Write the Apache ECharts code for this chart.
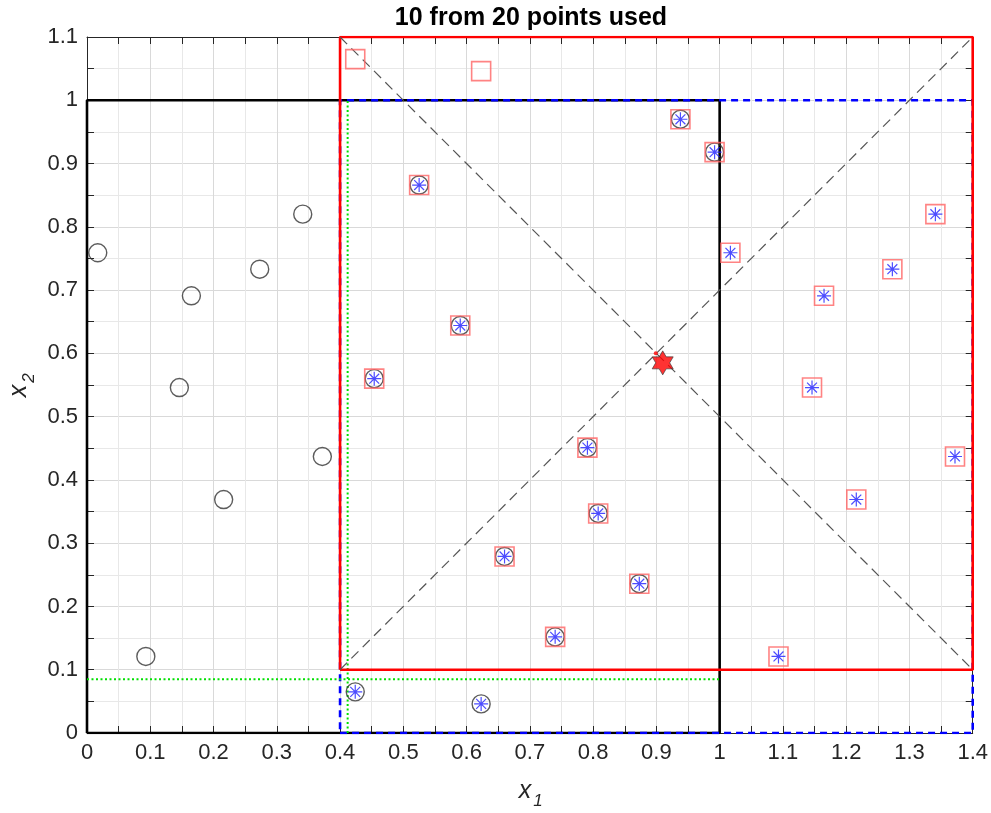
<!DOCTYPE html>
<html>
<head>
<meta charset="utf-8">
<script src="https://cdn.jsdelivr.net/npm/echarts@6/dist/echarts.min.js"></script>
<style>
html,body{margin:0;padding:0;background:#fff;}
#chart{width:991px;height:813px;}
</style>
</head>
<body>
<div id="chart"></div>
<script>
// ---- data ----
const circleX = [0.017, 0.093, 0.146, 0.165, 0.216, 0.273, 0.341, 0.372, 0.424, 0.454,
                 0.525, 0.590, 0.623, 0.660, 0.740, 0.791, 0.808, 0.873, 0.938, 0.992];
const circleY = [0.759, 0.121, 0.546, 0.691, 0.369, 0.733, 0.820, 0.437, 0.065, 0.560,
                 0.866, 0.644, 0.046, 0.279, 0.152, 0.451, 0.347, 0.236, 0.970, 0.918];

const squareX = [0.454, 0.525, 0.590, 0.660, 0.740, 0.791, 0.808, 0.873, 0.938, 0.992,
                 1.017, 1.093, 1.146, 1.165, 1.216, 1.273, 1.341, 1.372, 0.424, 0.623];
const squareY = [0.560, 0.866, 0.644, 0.279, 0.152, 0.451, 0.347, 0.236, 0.970, 0.918,
                 0.759, 0.121, 0.546, 0.691, 0.369, 0.733, 0.820, 0.437, 1.065, 1.046];

const starX = [0.424, 0.454, 0.525, 0.590, 0.623, 0.660, 0.740, 0.791, 0.808, 0.873,
               0.938, 0.992, 1.017, 1.093, 1.146, 1.165, 1.216, 1.273, 1.341, 1.372];
const starY = [0.065, 0.560, 0.866, 0.644, 0.046, 0.279, 0.152, 0.451, 0.347, 0.236,
               0.970, 0.918, 0.759, 0.121, 0.546, 0.691, 0.369, 0.733, 0.820, 0.437];

const centerPoint = [0.910, 0.585];
const crossPoint = [0.899, 0.600];

const blackBox = [[0, 0], [1, 0], [1, 1], [0, 1], [0, 0]];
const redBox = [[0.4, 0.1], [1.4, 0.1], [1.4, 1.1], [0.4, 1.1], [0.4, 0.1]];
const blueBox = [[0.4, 0], [1.4, 0], [1.4, 1], [0.4, 1], [0.4, 0]];
const greenV = [[0.412, 0], [0.412, 1]];
const greenH = [[0, 0.085], [1, 0.085]];
const diag1 = [[0.4, 0.1], [1.4, 1.1]];
const diag2 = [[0.4, 1.1], [1.4, 0.1]];

const xTicks = {min: 0, max: 1.4, step: 0.1};
const yTicks = {min: 0, max: 1.1, step: 0.1};
const titleText = '10 from 20 points used';

// ---- chart ----
const zip = (xs, ys) => xs.map((x, i) => [x, ys[i]]);
const FONT = '"Liberation Sans", Arial, Helvetica, sans-serif';
const AX = '#262626';

function axisBase(t, pos, showLabel) {
  return {
    type: 'value', position: pos, min: t.min, max: t.max, interval: t.step,
    axisLine: {show: true, onZero: false, lineStyle: {color: AX, width: 1}},
    axisTick: {show: true, inside: true, length: 7, lineStyle: {color: AX, width: 1}},
    minorTick: {show: true, splitNumber: 2, length: 7, lineStyle: {color: AX, width: 1}},
    axisLabel: {show: showLabel, color: AX, fontSize: 22, fontFamily: FONT, margin: 9},
    splitLine: {show: showLabel, lineStyle: {color: '#d9d9d9', width: 1}},
    minorSplitLine: {show: showLabel, lineStyle: {color: '#e8e8e8', width: 1}}
  };
}

function lineSeries(data, color, width, type, z) {
  return {
    type: 'line', data: data, xAxisIndex: 0, yAxisIndex: 0,
    showSymbol: false, symbol: 'none', silent: true, z: z,
    lineStyle: {color: color, width: width, type: type, cap: 'butt'},
    animation: false
  };
}

const asteriskPath = 'path://M10,0L10,20M0,10L20,10M2.93,2.93L17.07,17.07M2.93,17.07L17.07,2.93';
const hexagramPath = 'path://M0,-1L0.2887,-0.5L0.866,-0.5L0.5774,0L0.866,0.5L0.2887,0.5L0,1L-0.2887,0.5L-0.866,0.5L-0.5774,0L-0.866,-0.5L-0.2887,-0.5Z';

const chart = echarts.init(document.getElementById('chart'), null, {renderer: 'canvas'});
chart.setOption({
  animation: false,
  backgroundColor: '#fff',
  grid: {left: 87, right: 16, top: 37, bottom: 80, containLabel: false},
  xAxis: [axisBase(xTicks, 'bottom', true), axisBase(xTicks, 'top', false)],
  yAxis: [axisBase(yTicks, 'left', true), axisBase(yTicks, 'right', false)],
  graphic: [
    {type: 'text', x: 531, y: 18, z: 100,
     style: {text: titleText, font: 'bold 25px ' + FONT, fill: '#000', align: 'center', verticalAlign: 'middle'}},
    {type: 'group', x: 525, y: 791, z: 100, children: [
      {type: 'text', x: 0, y: 0, style: {text: 'x', font: 'italic 25px ' + FONT, fill: AX, align: 'center', verticalAlign: 'middle'}},
      {type: 'text', x: 13, y: 10, style: {text: '1', font: 'italic 17px ' + FONT, fill: AX, align: 'center', verticalAlign: 'middle'}}
    ]},
    {type: 'group', x: 19, y: 391, rotation: Math.PI / 2, z: 100, children: [
      {type: 'text', x: 0, y: 0, style: {text: 'x', font: 'italic 25px ' + FONT, fill: AX, align: 'center', verticalAlign: 'middle'}},
      {type: 'text', x: 13, y: 10, style: {text: '2', font: 'italic 17px ' + FONT, fill: AX, align: 'center', verticalAlign: 'middle'}}
    ]}
  ],
  series: [
    lineSeries(blackBox, '#000', 2.6, 'solid', 3),
    lineSeries(blueBox, '#0000ff', 2.6, [7, 5], 4),
    lineSeries(greenV, '#00e000', 2, [2, 2.5], 5),
    lineSeries(greenH, '#00e000', 2, [2, 2.5], 5),
    lineSeries(redBox, '#ff0000', 2.6, 'solid', 6),
    lineSeries(diag1, '#555', 1.2, [10, 6], 7),
    lineSeries(diag2, '#555', 1.2, [10, 6], 7),
    {type: 'scatter', data: zip(circleX, circleY), symbol: 'circle', symbolSize: 18, z: 8,
     itemStyle: {color: 'rgba(0,0,0,0)', borderColor: '#333', borderWidth: 1.4}},
    {type: 'scatter', data: zip(squareX, squareY), symbol: 'rect', symbolSize: 19, z: 9,
     itemStyle: {color: 'rgba(0,0,0,0)', borderColor: '#ff6464', borderWidth: 1.6}},
    {type: 'scatter', data: zip(starX, starY), symbol: asteriskPath, symbolSize: 14, z: 10,
     itemStyle: {color: 'rgba(0,0,0,0)', borderColor: '#1f1fff', borderWidth: 1.2}},
    {type: 'scatter', data: [crossPoint], symbol: 'circle', symbolSize: 4, z: 11,
     itemStyle: {color: '#ff0000', borderWidth: 0}},
    {type: 'scatter', data: [centerPoint], symbol: hexagramPath, symbolSize: [21, 24], z: 12,
     itemStyle: {color: '#ff0000', borderColor: '#333', borderWidth: 0.8}}
  ]
});
</script>
</body>
</html>
